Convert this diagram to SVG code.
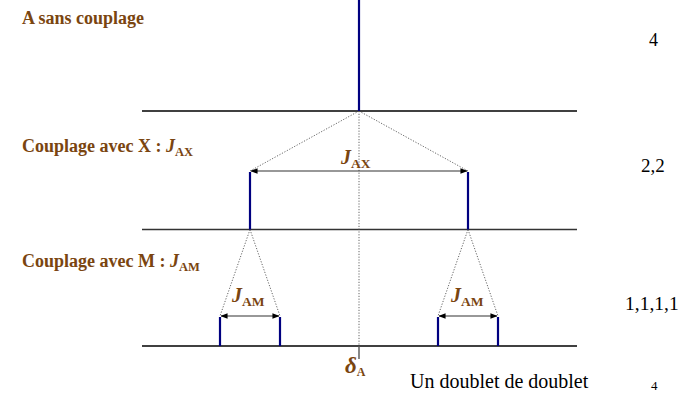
<svg xmlns="http://www.w3.org/2000/svg" width="686" height="393" viewBox="0 0 686 393">
<defs>
<marker id="ah" viewBox="0 0 8 8" refX="7.5" refY="4" markerWidth="7" markerHeight="7" orient="auto-start-reverse" markerUnits="userSpaceOnUse">
<path d="M0,0.8 L8,4 L0,7.2 Z" fill="#000"/>
</marker>
<style>
.base{stroke:#000;stroke-width:1.3;fill:none}
.line{stroke:#000080;stroke-width:2.2;fill:none}
.dot{stroke:#555;stroke-width:0.9;stroke-dasharray:1.2 1.6;fill:none}
.arr{stroke:#333;stroke-width:1.2;fill:none}
.lbl{font-family:"Liberation Serif","DejaVu Serif",serif;font-weight:bold;fill:#7a4510}
.num{font-family:"Liberation Serif","DejaVu Serif",serif;fill:#000}
.j{font-style:italic}
</style>
</defs>
<g id="connectors">
<line class="base" x1="142" y1="111" x2="577" y2="111"/>
<line class="base" x1="142" y1="229.5" x2="577" y2="229.5" style="stroke:#333"/>
<line class="base" x1="142" y1="346" x2="577" y2="346"/>
<line class="dot" x1="359" y1="111" x2="359" y2="346"/>
<line x1="359" y1="346" x2="359" y2="359" stroke="#555" stroke-width="1.4"/>
<line class="dot" x1="359" y1="111" x2="250" y2="171"/>
<line class="dot" x1="359" y1="111" x2="468" y2="171"/>
<line class="dot" x1="250" y1="229.5" x2="220" y2="316"/>
<line class="dot" x1="250" y1="229.5" x2="280" y2="316"/>
<line class="dot" x1="468" y1="229.5" x2="438" y2="316"/>
<line class="dot" x1="468" y1="229.5" x2="498" y2="316"/>
<line class="arr" x1="251" y1="171" x2="467" y2="171" marker-start="url(#ah)" marker-end="url(#ah)"/>
<line class="arr" x1="221" y1="316" x2="279" y2="316" marker-start="url(#ah)" marker-end="url(#ah)"/>
<line class="arr" x1="439" y1="316" x2="497" y2="316" marker-start="url(#ah)" marker-end="url(#ah)"/>
</g>
<g id="singlet">
<line class="line" x1="359" y1="0" x2="359" y2="111"/>
</g>
<g id="doublet">
<line class="line" x1="250" y1="172" x2="250" y2="229.5"/>
<line class="line" x1="468" y1="172" x2="468" y2="229.5"/>
</g>
<g id="doublet-of-doublet">
<line class="line" x1="220" y1="317" x2="220" y2="346"/>
<line class="line" x1="280" y1="317" x2="280" y2="346"/>
<line class="line" x1="438" y1="317" x2="438" y2="346"/>
<line class="line" x1="498" y1="317" x2="498" y2="346"/>
</g>
<g id="labels">
<text class="lbl" x="22" y="24" font-size="18">A sans couplage</text>
<text class="lbl" x="22" y="152" font-size="18">Couplage avec X : <tspan class="j">J</tspan><tspan font-size="12.5" dy="4">AX</tspan></text>
<text class="lbl" x="22" y="267" font-size="18">Couplage avec M : <tspan class="j">J</tspan><tspan font-size="12.5" dy="4">AM</tspan></text>
<text class="lbl" x="341" y="164" font-size="20"><tspan class="j">J</tspan><tspan font-size="13.5" dy="4">AX</tspan></text>
<text class="lbl" x="232" y="302" font-size="20"><tspan class="j">J</tspan><tspan font-size="13.5" dy="4">AM</tspan></text>
<text class="lbl" x="451" y="302" font-size="20"><tspan class="j">J</tspan><tspan font-size="13.5" dy="4">AM</tspan></text>
<text class="lbl" x="345" y="373" font-size="23"><tspan class="j">δ</tspan><tspan font-size="12" dy="3">A</tspan></text>
</g>
<g id="counts">
<text class="num" x="649" y="46" font-size="18">4</text>
<text class="num" x="641" y="172" font-size="19">2,2</text>
<text class="num" x="625" y="310" font-size="19.5">1,1,1,1</text>
<text class="num" x="410" y="388" font-size="20">Un doublet de doublet</text>
<text class="num" x="651" y="390" font-size="13">4</text>
</g>
</svg>
